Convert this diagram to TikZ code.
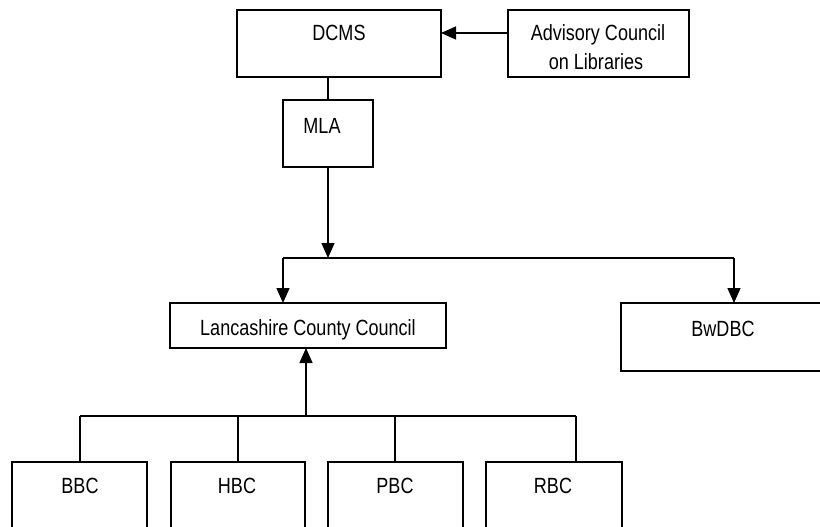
\documentclass[tikz,border=0pt]{standalone}
\usepackage{fontspec}
\setmainfont[FakeStretch=0.82]{Liberation Sans}
\usetikzlibrary{arrows.meta}
\begin{document}
\begin{tikzpicture}[x=1pt,y=-1pt,
  bx/.style={draw, line width=1.4pt, inner sep=0pt, outer sep=0pt, anchor=north west},
  lbl/.style={anchor=base, inner sep=0pt, font=\fontsize{22}{26}\selectfont},
  conn/.style={line width=1.4pt},
  arr/.style={line width=1.4pt, -{Triangle[length=15pt,width=13pt]}}]
\useasboundingbox (0,0) rectangle (820,527);
\clip (0,0) rectangle (820,527);
% boxes
\node[bx, minimum width=204pt, minimum height=67pt] (dcms) at (237,10) {};
\node[bx, minimum width=181pt, minimum height=67pt] (adv) at (508,10) {};
\node[bx, minimum width=90pt, minimum height=67pt] (mla) at (283,100) {};
\node[bx, minimum width=276pt, minimum height=45pt] (lcc) at (170,303) {};
\node[bx, minimum width=220pt, minimum height=68pt] (bw) at (621,303) {};
\node[bx, minimum width=135pt, minimum height=90pt] (bbc) at (12,462) {};
\node[bx, minimum width=134pt, minimum height=90pt] (hbc) at (171,462) {};
\node[bx, minimum width=135pt, minimum height=90pt] (pbc) at (328,462) {};
\node[bx, minimum width=136pt, minimum height=90pt] (rbc) at (486,462) {};
% labels
\node[lbl] (tdcms) at (339,41) {DCMS};
\node[lbl] (tadv1) at (598,41) {Advisory Council};
\node[lbl] (tadv2) at (596,70) {on Libraries};
\node[lbl] (tmla) at (322,133) {MLA};
\node[lbl] (tlcc) at (308,335) {Lancashire County Council};
\node[lbl] (tbw) at (723,336) {BwDBC};
\node[lbl] (tbbc) at (80,493) {BBC};
\node[lbl] (thbc) at (237,493) {HBC};
\node[lbl] (tpbc) at (395,493) {PBC};
\node[lbl] (trbc) at (553,493) {RBC};
% junction coordinates
\coordinate (split) at (328,258);
\coordinate (jl) at (283,258);
\coordinate (jr) at (734,258);
\coordinate (bup) at (306,416);
\coordinate (b1) at (80,416);
\coordinate (b2) at (238,416);
\coordinate (b3) at (395,416);
\coordinate (b4) at (576,416);
% connectors
\draw[arr] (adv.west |- 0,33) -- (dcms.east |- 0,33);
\draw[conn] (mla.north) -- (mla.north |- dcms.south);
\draw[arr] (mla.south) -- (split);
\draw[conn] (jl) -- (jr);
\draw[arr] (jl) -- (jl |- lcc.north);
\draw[arr] (jr) -- (jr |- bw.north);
\draw[arr] (bup) -- (bup |- lcc.south);
\draw[conn] (b1) -- (b4);
\draw[conn] (b1) -- (b1 |- bbc.north);
\draw[conn] (b2) -- (b2 |- hbc.north);
\draw[conn] (b3) -- (b3 |- pbc.north);
\draw[conn] (b4) -- (b4 |- rbc.north);
\end{tikzpicture}
\end{document}
